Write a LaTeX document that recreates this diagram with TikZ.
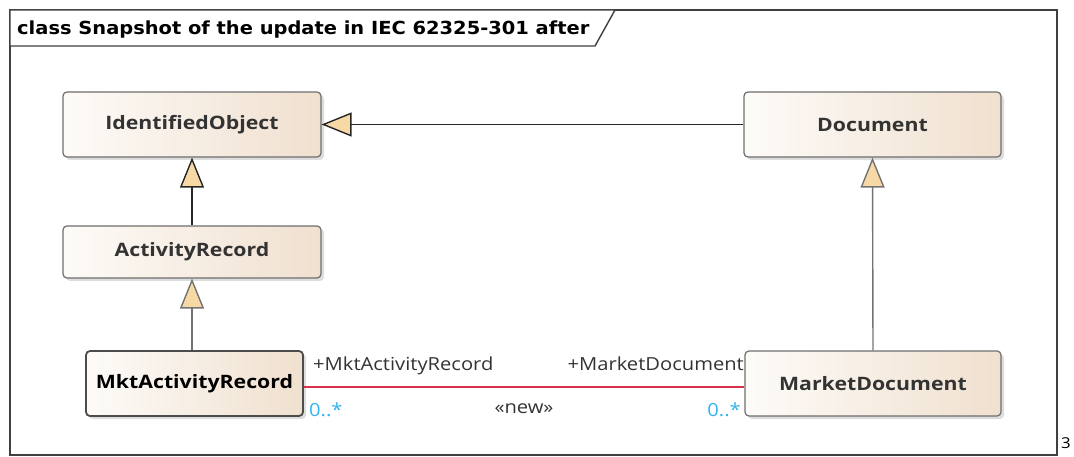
\documentclass[tikz,border=0pt]{standalone}
\usepackage{fontspec}
\setmainfont{Open Sans}
\newfontfamily\titlefont[FakeStretch=1.08]{DejaVu Sans}
\newfontfamily\boxfont[FakeStretch=1.15]{Open Sans}
\newfontfamily\lblfont[FakeStretch=1.12]{Open Sans}
\usetikzlibrary{arrows.meta,shadows}
\definecolor{boxborder}{HTML}{6E6E6E}
\definecolor{boxleft}{HTML}{FDFBF8}
\definecolor{boxright}{HTML}{F0E0CF}
\definecolor{tipfill}{HTML}{F7D9A6}
\definecolor{assoc}{HTML}{D9304A}
\definecolor{mult}{HTML}{2FB4EE}
\definecolor{txtdark}{HTML}{333333}
\tikzset{
  classbox/.style={draw=boxborder, line width=1.2pt, rounded corners=4pt,
    left color=boxleft, right color=boxright, shading angle=90,
    drop shadow={shadow xshift=3pt, shadow yshift=-3pt, fill=black!22, opacity=0.6},
    font=\boxfont\fontsize{18.5}{20}\selectfont\bfseries, text=txtdark, inner sep=0pt},
  gen/.style={-{Triangle[open, fill=tipfill, length=30pt, width=24pt]}, line width=1.4pt},
  lbl/.style={font=\lblfont\fontsize{18}{20}\selectfont, text=txtdark, inner sep=0pt},
  mlt/.style={font=\lblfont\fontsize{18}{20}\selectfont, text=mult, inner sep=0pt}
}
\begin{document}
\begin{tikzpicture}[x=1pt,y=-1pt]
\useasboundingbox (0,0) rectangle (1074,457);
% frame
\draw[line width=1.4pt, black!75] (10,10) rectangle (1057,455);
\draw[line width=1.4pt, black!75, fill=white] (10,10) -- (615,10) -- (595,46) -- (10,46) -- cycle;
\node[anchor=base west, font=\titlefont\fontsize{18}{20}\selectfont\bfseries, inner sep=0pt] (title) at (17,35) {class Snapshot of the update in IEC 62325-301 after};
\node[anchor=center, font=\lblfont\fontsize{15}{16}\selectfont, inner sep=0pt] (pg) at (1066,443) {3};
% classes
\node[classbox, minimum width=258pt, minimum height=65pt] (io) at (192,124.5) {IdentifiedObject};
\node[classbox, minimum width=257pt, minimum height=65pt] (doc) at (872.5,124.5) {Document};
\node[classbox, minimum width=258pt, minimum height=52pt] (ar) at (192,252) {ActivityRecord};
\node[classbox, minimum width=217pt, minimum height=65pt, line width=1.8pt, draw=black!70, text=black] (mar) at (194.5,383.5) {MktActivityRecord};
\node[classbox, minimum width=256pt, minimum height=65pt] (md) at (873,383.5) {MarketDocument};
% generalizations
\draw[gen, draw=black!85] (doc.west) -- (io.east);
\draw[gen, draw=black!85] (ar.north) -- (io.south);
\draw[gen, draw=black!55] (mar.north -| ar.south) -- (ar.south);
\draw[gen, draw=black!55] (md.north) -- (doc.south);
% association
\coordinate (a1) at (mar.east |- 0,387);
\coordinate (a2) at (md.west |- 0,387);
\draw[assoc, line width=1.3pt] (a1) -- (a2);
\node[lbl, anchor=base west] (r1) at (313,370) {+MktActivityRecord};
\node[lbl, anchor=base east] (r2) at (744,370) {+MarketDocument};
\node[lbl, anchor=base] (st) at (524,413) {«new»};
\node[mlt, anchor=base west] (m1) at (309,416) {0..*};
\node[mlt, anchor=base east] (m2) at (741,416) {0..*};
\end{tikzpicture}
\end{document}
